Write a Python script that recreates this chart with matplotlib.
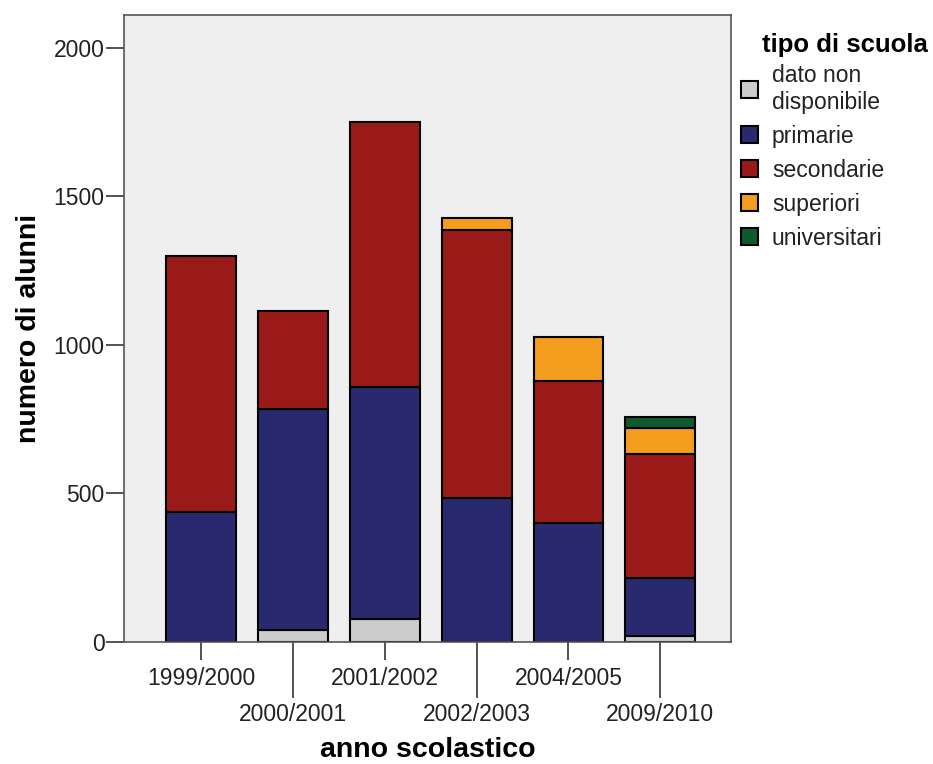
import numpy as np
import matplotlib
matplotlib.use('Agg')
import matplotlib.pyplot as plt

anni = ['1999/2000', '2000/2001', '2001/2002', '2002/2003', '2004/2005', '2009/2010']
dato = [0, 40, 78, 0, 0, 21]
primarie = [438, 743, 779, 483, 399, 193]
secondarie = [862, 332, 894, 903, 479, 417]
superiori = [0, 0, 0, 42, 147, 88]
universitari = [0, 0, 0, 0, 0, 39]

serie = [('dato non\ndisponibile', dato, '#cccccc'),
         ('primarie', primarie, '#29296f'),
         ('secondarie', secondarie, '#9a1a1a'),
         ('superiori', superiori, '#f39c1e'),
         ('universitari', universitari, '#0f5a2c')]

plt.rcParams['font.family'] = ['Liberation Sans', 'DejaVu Sans']

fig = plt.figure(figsize=(9.33, 7.64), dpi=100)
ax = fig.add_axes([124/933, 1-642/764, 607/933, 627/764])
ax.set_facecolor('#efefef')

x = np.arange(len(anni))
bottom = np.zeros(len(anni))
handles = []
for nome, vals, col in serie:
    vals = np.array(vals, dtype=float)
    idx = vals > 0
    b = ax.bar(x[idx], vals[idx], width=0.76, bottom=bottom[idx], color=col,
               edgecolor='black', linewidth=1.5, label=nome)
    handles.append(b)
    bottom += vals

ax.set_xlim(-0.84, 5.77)
ax.set_ylim(0, 2110)
ax.set_yticks([0, 500, 1000, 1500, 2000])
ax.tick_params(axis='y', length=13, width=1.3, color='#444444', pad=1,
               labelsize=16.5, labelcolor='#222222')

# staggered year labels: even ones on major ticks, odd ones on long minor ticks
ax.set_xticks(x[::2])
ax.set_xticklabels(anni[::2])
ax.set_xticks(x[1::2], minor=True)
ax.set_xticklabels(anni[1::2], minor=True)
ax.tick_params(axis='x', which='major', length=13, width=1.3, color='#444444',
               pad=5, labelsize=16.5, labelcolor='#222222')
ax.tick_params(axis='x', which='minor', length=40, width=1.3, color='#444444',
               pad=4, labelsize=16.5, labelcolor='#222222')

for s in ax.spines.values():
    s.set_color('#555555')
    s.set_linewidth(1.2)

ax.set_ylabel('numero di alunni', fontsize=20.5, fontweight='bold')
ax.yaxis.set_label_coords(-0.135, 0.5)
ax.set_xlabel('anno scolastico', fontsize=20.5, fontweight='bold')
ax.xaxis.set_label_coords(0.5, -0.152)

fig.text(762/933, 1-45/764, 'tipo di scuola', fontsize=18.5, fontweight='bold',
         ha='left', va='center')
leg = ax.legend(handles=handles, loc='upper left',
                bbox_to_anchor=(741/933, 1-64/764), bbox_transform=fig.transFigure,
                frameon=False, fontsize=16.5, handlelength=0.75, handleheight=0.75,
                handletextpad=0.6, labelspacing=0.48, borderaxespad=0, borderpad=0,
                labelcolor='#222222')

fig.savefig('out.png', dpi=100)
